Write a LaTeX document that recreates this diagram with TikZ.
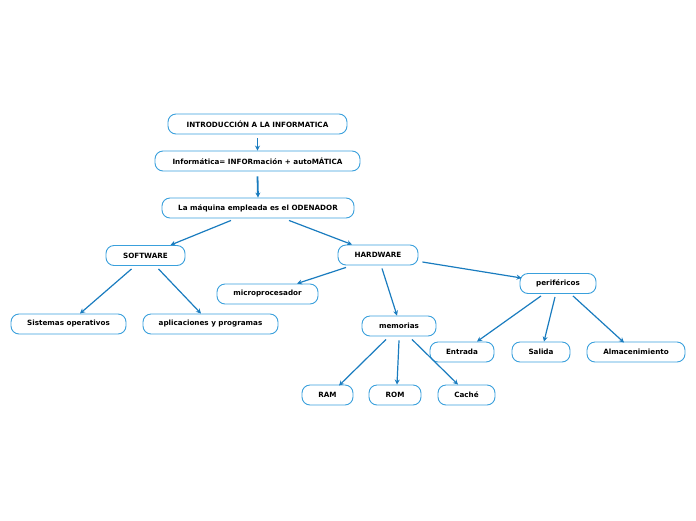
\documentclass[tikz,border=0pt]{standalone}
\usepackage{fontspec}
\setmainfont{DejaVu Sans}
\usetikzlibrary{arrows.meta}
\definecolor{boxc}{HTML}{3AA0DC}
\definecolor{arrc}{HTML}{1A7CBF}
\begin{document}
\begin{tikzpicture}[x=1pt,y=-1pt,
  box/.style={draw=boxc,line width=0.9pt,rounded corners=8pt,minimum height=20pt,inner sep=0pt,font=\fontsize{7.2}{8}\selectfont\bfseries,text=black},
  arr/.style={draw=arrc,line width=1.2pt,-{Stealth[length=5pt,width=5pt]}}]
\useasboundingbox (0,0) rectangle (696,520);
\node[box,minimum width=179pt] (intro) at (257.5,124) {INTRODUCCIÓN A LA INFORMATICA};
\node[box,minimum width=205pt] (inf) at (257.5,161) {Informática= INFORmación + autoMÁTICA};
\node[box,minimum width=192pt] (maq) at (258,208) {La máquina empleada es el ODENADOR};
\node[box,minimum width=79pt] (sw) at (145.5,255.5) {SOFTWARE};
\node[box,minimum width=80pt] (hw) at (378,255) {HARDWARE};
\node[box,minimum width=101pt] (micro) at (267.5,294) {microprocesador};
\node[box,minimum width=76pt] (peri) at (558,283.5) {periféricos};
\node[box,minimum width=115pt] (so) at (68.5,324) {Sistemas operativos};
\node[box,minimum width=135pt] (apl) at (210.5,324) {aplicaciones y programas};
\node[box,minimum width=74pt] (mem) at (399,326) {memorias};
\node[box,minimum width=64pt] (ent) at (462,352) {Entrada};
\node[box,minimum width=58pt] (sal) at (541,352) {Salida};
\node[box,minimum width=98pt] (alm) at (636,352) {Almacenimiento};
\node[box,minimum width=51pt] (ram) at (327.5,395) {RAM};
\node[box,minimum width=52pt] (rom) at (395,395) {ROM};
\node[box,minimum width=57pt] (cache) at (466.5,395) {Caché};
\draw[arr] ([yshift=-4pt]intro.south) -- (inf.north);
\draw[arr,line width=1.8pt] ([yshift=-5pt]inf.south) -- (maq.north);
\draw[arr] ([xshift=-27pt,yshift=-2pt]maq.south) -- ([xshift=25pt]sw.north);
\draw[arr] ([xshift=31pt,yshift=-2pt]maq.south) -- ([xshift=-26pt]hw.north);
\draw[arr] ([xshift=-14pt,yshift=-3pt]sw.south) -- ([xshift=11.5pt]so.north);
\draw[arr] ([xshift=13pt,yshift=-3pt]sw.south) -- ([xshift=-9.5pt]apl.north);
\draw[arr] ([xshift=-32pt,yshift=-2pt]hw.south) -- ([xshift=29.5pt]micro.north);
\draw[arr] ([xshift=4pt,yshift=-3pt]hw.south) -- ([xshift=-2pt]mem.north);
\draw[arr] ([xshift=4pt,yshift=-7pt]hw.east) -- ([xshift=2pt,yshift=5.5pt]peri.west);
\draw[arr] ([xshift=-17pt,yshift=-2pt]peri.south) -- ([xshift=15pt]ent.north);
\draw[arr] ([xshift=-3pt,yshift=-3pt]peri.south) -- ([xshift=3pt]sal.north);
\draw[arr] ([xshift=15pt,yshift=-2pt]peri.south) -- ([xshift=-12pt,yshift=-1pt]alm.north);
\draw[arr] ([xshift=-13pt,yshift=-3pt]mem.south) -- ([xshift=11.5pt,yshift=-1pt]ram.north);
\draw[arr] ([xshift=0pt,yshift=-4pt]mem.south) -- ([xshift=2pt]rom.north);
\draw[arr] ([xshift=13pt,yshift=-3pt]mem.south) -- ([xshift=-8.5pt]cache.north);
\end{tikzpicture}
\end{document}
